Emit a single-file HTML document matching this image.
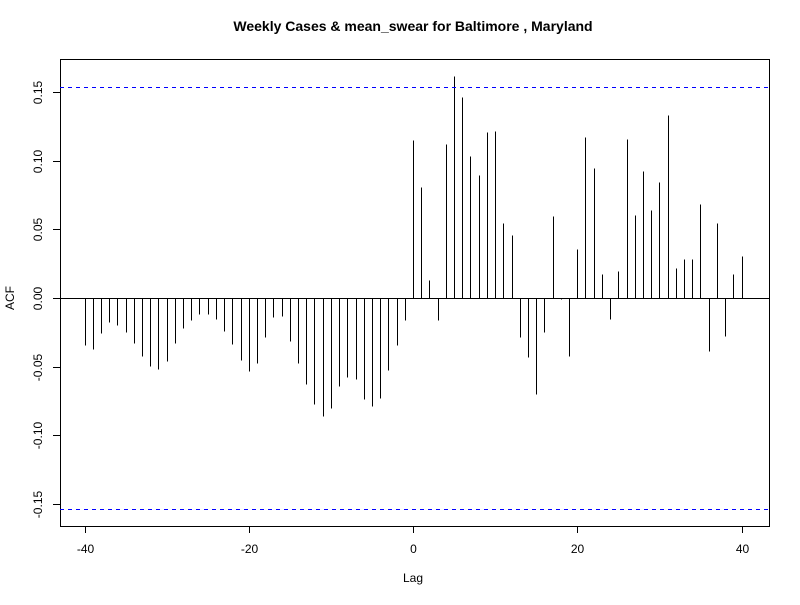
<!DOCTYPE html>
<html><head><meta charset="utf-8"><style>
body{margin:0;background:#fff}
text{font-family:"Liberation Sans",Arial,sans-serif;font-size:12px;fill:#000}
</style></head><body>
<svg id="c" width="800" height="600" xmlns="http://www.w3.org/2000/svg">
<text x="413" y="31" text-anchor="middle" style="font-weight:bold;font-size:14px">Weekly Cases &amp; mean_swear for Baltimore , Maryland</text>
<text x="413" y="582" text-anchor="middle">Lag</text>
<text x="14" y="298" text-anchor="middle" transform="rotate(-90 14 298)">ACF</text>
<rect x="60.5" y="59.5" width="709" height="467" fill="none" stroke="#000"/>
<g id="g"></g>
</svg>
<script>
const lags=[];for(let k=-40;k<=40;k++)lags.push(k);
const acfValues=[-0.034,-0.0369,-0.0257,-0.0172,-0.0199,-0.025,-0.033,-0.0425,-0.0493,-0.0515,-0.0456,-0.033,-0.0221,-0.0163,-0.0119,-0.0119,-0.0155,-0.0243,-0.0337,-0.0454,-0.0534,-0.0476,-0.0286,-0.0141,-0.0134,-0.0316,-0.0476,-0.0629,-0.0774,-0.0862,-0.0804,-0.0643,-0.0578,-0.0592,-0.0738,-0.0789,-0.0731,-0.0527,-0.0345,-0.0163,
0.1153,0.081,0.0134,-0.0163,0.1124,0.162,0.1466,0.1037,0.0898,0.1211,0.1219,0.0549,0.0461,-0.0287,-0.0432,-0.0702,-0.025,0.06,-0.001,-0.0425,0.0359,0.1175,0.0949,0.0177,-0.0155,0.0199,0.116,0.0607,0.0927,0.0643,0.0847,0.1335,0.0221,0.0286,0.0286,0.0687,-0.0388,0.0549,-0.0279,0.0177,0.0308];
const xTicks=[-40,-20,0,20,40];
const yTicks=[-0.15,-0.10,-0.05,0.00,0.05,0.10,0.15];
const ciLevel=0.1535;
const X=v=>Math.round(413+(v)*8.2125)+0.5;
const Y=v=>Math.round(298-v*1373)+0.5;
const g=document.getElementById('g');const NS='http://www.w3.org/2000/svg';
function mk(t,a){const e=document.createElementNS(NS,t);for(const k in a)e.setAttribute(k,a[k]);g.appendChild(e);return e;}
lags.forEach((l,i)=>{const e=mk('line',{x1:X(l),x2:X(l),y1:Y(0),y2:Y(acfValues[i]),stroke:'#000','stroke-width':1});

});
const z=mk('line',{x1:60,x2:769,y1:Y(0),y2:Y(0),stroke:'#000'});


[ciLevel,-ciLevel].forEach((c,i)=>{const e=mk('line',{x1:60,x2:769,y1:Y(c),y2:Y(c),stroke:'#0000ff','stroke-dasharray':'4,4'});

});
xTicks.forEach(t=>{const l=mk('line',{x1:X(t),x2:X(t),y1:526,y2:533,stroke:'#000'});


const tx=mk('text',{x:X(t),y:553,'text-anchor':'middle'});tx.textContent=t;

});
yTicks.forEach(t=>{const y=Y(t);const l=mk('line',{x1:53,x2:60,y1:y,y2:y,stroke:'#000'});


const tx=mk('text',{x:42,y:y,'text-anchor':'middle',transform:'rotate(-90 42 '+y+')'});tx.textContent=t.toFixed(2);

});
</script>
</body></html>
